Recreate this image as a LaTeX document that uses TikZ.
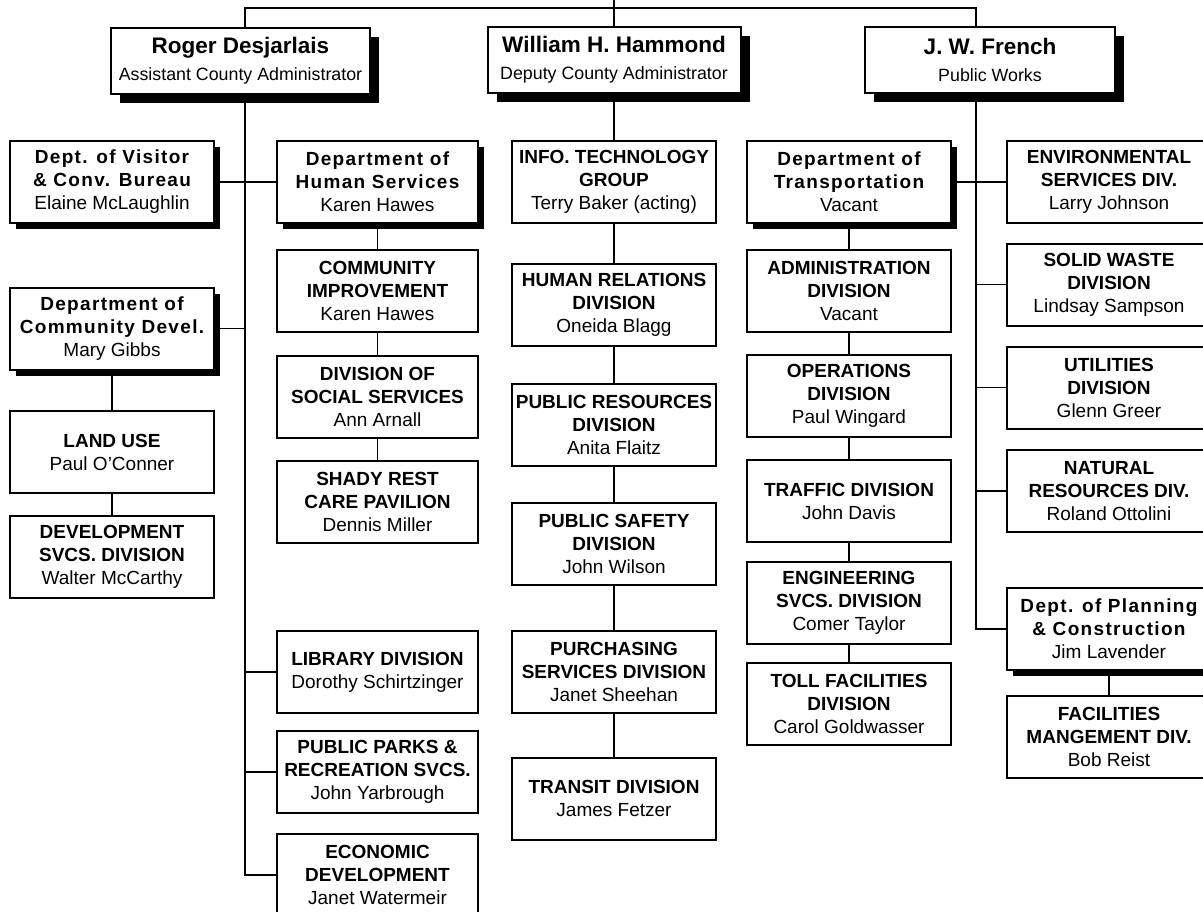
\documentclass[tikz,border=0pt]{standalone}
\usepackage{fontspec}
\setmainfont{Liberation Sans}
\newfontfamily\deptfont[LetterSpace=7]{Liberation Sans}
\usetikzlibrary{shadows}

\begin{document}
\begin{tikzpicture}[x=1pt,y=-1pt,line width=1.8pt,
	every node/.style={draw,fill=white,line width=2pt,align=center,inner sep=2pt,
	font=\fontsize{19}{23}\selectfont\bfseries},
	unit/.style={minimum width=204pt,minimum height=82pt},
	dept/.style={unit,font=\deptfont\fontsize{19}{23}\selectfont\bfseries,
	drop shadow={shadow xshift=6pt,shadow yshift=-6pt,fill=black,opacity=1}},
	head/.style={minimum height=66pt,font=\fontsize{17.8}{27}\selectfont,
	drop shadow={shadow xshift=9pt,shadow yshift=-9pt,fill=black,opacity=1}}]
\useasboundingbox (0,0) rectangle (1203,911);

\node[head,minimum width=259pt] (roger) at (240.5,60.5)
	{{\fontsize{22.5}{27}\selectfont\bfseries Roger Desjarlais}\\Assistant County Administrator};
\node[head,minimum width=253pt] (william) at (614,60)
	{{\fontsize{22.5}{27}\selectfont\bfseries William H. Hammond}\\Deputy County Administrator};
\node[head,minimum width=250pt] (french) at (990,59.5)
	{{\fontsize{22.5}{27}\selectfont\bfseries J. W. French}\\Public Works};

\node[dept] (visitor) at (112,182) {Dept. of Visitor\\\& Conv. Bureau\\\normalfont Elaine McLaughlin};
\node[dept] (commdev) at (112,328.5) {Department of\\Community Devel.\\\normalfont Mary Gibbs};
\node[unit] (landuse) at (112,452) {LAND USE\\\mdseries Paul O'Conner};
\node[unit] (devsvcs) at (112,557) {DEVELOPMENT\\SVCS. DIVISION\\\mdseries Walter McCarthy};

\node[dept,minimum width=201pt] (humserv) at (377.5,182) {Department of\\Human Services\\\normalfont Karen Hawes};
\node[unit,minimum width=201pt] (commimp) at (377.5,291) {COMMUNITY\\IMPROVEMENT\\\mdseries Karen Hawes};
\node[unit,minimum width=201pt] (socserv) at (377.5,396.5) {DIVISION OF\\SOCIAL SERVICES\\\mdseries Ann Arnall};
\node[unit,minimum width=201pt] (shady) at (377.5,502) {SHADY REST\\CARE PAVILION\\\mdseries Dennis Miller};
\node[unit,minimum width=201pt] (library) at (377.5,672) {LIBRARY DIVISION\\\mdseries Dorothy Schirtzinger};
\node[unit,minimum width=201pt] (parks) at (377.5,772) {PUBLIC PARKS \&\\RECREATION SVCS.\\\mdseries John Yarbrough};
\node[unit,minimum width=201pt] (econdev) at (377.5,875) {ECONOMIC\\DEVELOPMENT\\\mdseries Janet Watermeir};

\node[unit] (infotech) at (614,182) {INFO. TECHNOLOGY\\GROUP\\\mdseries Terry Baker (acting)};
\node[unit] (humrel) at (614,305) {HUMAN RELATIONS\\DIVISION\\\mdseries Oneida Blagg};
\node[unit] (pubres) at (614,424.5) {PUBLIC RESOURCES\\DIVISION\\\mdseries Anita Flaitz};
\node[unit] (pubsafe) at (614,543.5) {PUBLIC SAFETY\\DIVISION\\\mdseries John Wilson};
\node[unit] (purch) at (614,672) {PURCHASING\\SERVICES DIVISION\\\mdseries Janet Sheehan};
\node[unit] (transit) at (614,798.5) {TRANSIT DIVISION\\\mdseries James Fetzer};

\node[dept] (transp) at (849,182) {Department of\\Transportation\\\normalfont Vacant};
\node[unit] (admin) at (849,291) {ADMINISTRATION\\DIVISION\\\mdseries Vacant};
\node[unit] (oper) at (849,396) {OPERATIONS\\DIVISION\\\mdseries Paul Wingard};
\node[unit] (traffic) at (849,501) {TRAFFIC DIVISION\\\mdseries John Davis};
\node[unit] (engin) at (849,602.5) {ENGINEERING\\SVCS. DIVISION\\\mdseries Comer Taylor};
\node[unit] (toll) at (849,704) {TOLL FACILITIES\\DIVISION\\\mdseries Carol Goldwasser};

\node[unit] (envserv) at (1109,182) {ENVIRONMENTAL\\SERVICES DIV.\\\mdseries Larry Johnson};
\node[unit] (solidw) at (1109,284.5) {SOLID WASTE\\DIVISION\\\mdseries Lindsay Sampson};
\node[unit] (util) at (1109,387.5) {UTILITIES\\DIVISION\\\mdseries Glenn Greer};
\node[unit] (natres) at (1109,491) {NATURAL\\RESOURCES DIV.\\\mdseries Roland Ottolini};
\node[dept] (planning) at (1109,629) {Dept. of Planning\\\& Construction\\\normalfont Jim Lavender};
\node[unit] (facmgmt) at (1109,737) {FACILITIES\\MANGEMENT DIV.\\\mdseries Bob Reist};

\coordinate (top) at (614,0);
\coordinate (rtrunk) at (245,8);
\coordinate (ftrunk) at (976,8);
\draw (top) -- (william.north);
\draw (roger.north -| rtrunk) -- (rtrunk) -- (ftrunk) -- (french.north -| ftrunk);
\draw (roger.south -| rtrunk) |- (econdev.west);
\draw (visitor.east) -- (humserv.west);
\draw (commdev.east) -- (commdev.east -| rtrunk);
\draw (library.west) -- (library.west -| rtrunk);
\draw (parks.west) -- (parks.west -| rtrunk);
\draw (french.south -| ftrunk) |- (planning.west);
\draw (transp.east) -- (envserv.west);
\foreach \n in {solidw,util,natres}
	\draw (\n.west) -- (\n.west -| ftrunk);
\foreach \a/\b in {commdev/landuse,landuse/devsvcs,
	humserv/commimp,commimp/socserv,socserv/shady,
	william/infotech,infotech/humrel,humrel/pubres,pubres/pubsafe,pubsafe/purch,purch/transit,
	transp/admin,admin/oper,oper/traffic,traffic/engin,engin/toll,
	planning/facmgmt}
	\draw (\a.south) -- (\b.north);
\end{tikzpicture}
\end{document}
